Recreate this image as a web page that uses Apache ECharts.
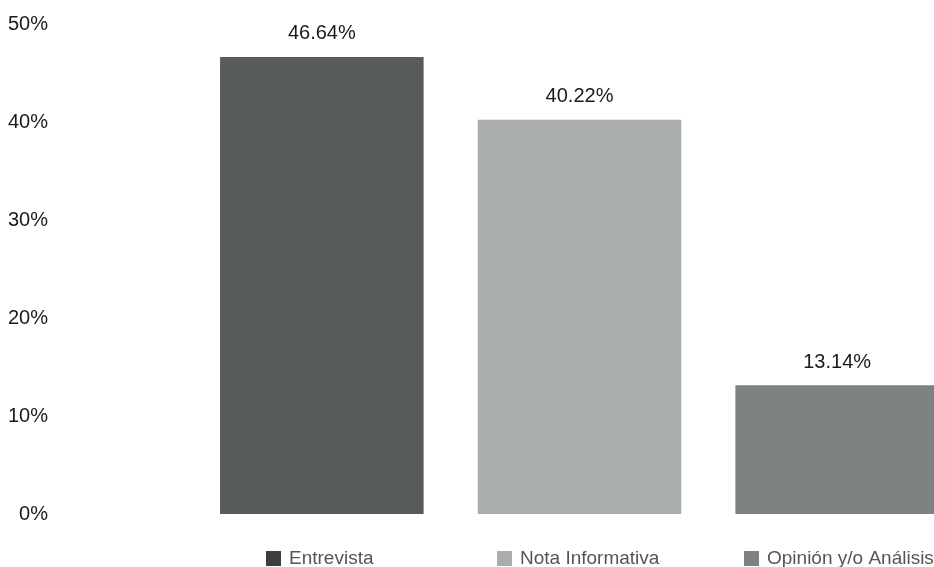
<!DOCTYPE html>
<html>
<head>
<meta charset="utf-8">
<script src="https://cdn.jsdelivr.net/npm/echarts@6/dist/echarts.min.js"></script>
<style>html,body{margin:0;padding:0;background:#fff;}#c{width:934px;height:567px;}</style>
</head>
<body>
<div id="c"></div>
<script>
const categories = ['Entrevista', 'Nota Informativa', 'Opinión y/o Análisis'];
const values = [46.64, 40.22, 13.14];
const barColors = ['#575b5c', '#a9adad', '#7f8282'];
const legendColors = ['#3b3e41', '#a9adad', '#7f8282'];
const yTicks = [0, 10, 20, 30, 40, 50];

const FONT = '"Liberation Sans", Arial, sans-serif';
const chart = echarts.init(document.getElementById('c'), null, {renderer: 'canvas'});

const series = categories.map((name, i) => ({
  name: name,
  type: 'bar',
  stack: 'all',
  barCategoryGap: '21%',
  data: categories.map((c, j) => j === i ? values[i] : '-'),
  itemStyle: {color: barColors[i]},
  label: {
    show: true, position: 'top', distance: 13,
    formatter: p => p.value.toFixed(2) + '%',
    color: '#1a1a1a', fontSize: 20, fontFamily: FONT
  }
}));

const legendLefts = [266, 497, 744];
const legends = categories.map((name, i) => ({
  data: [{name: name, itemStyle: {color: legendColors[i]}}],
  left: legendLefts[i], top: 549,
  icon: 'rect', itemWidth: 15, itemHeight: 15,
  padding: 0, selectedMode: false,
  textStyle: {color: '#555', fontSize: 19, fontFamily: FONT, padding: [0, 0, 0, 3]}
}));

chart.setOption({
  animation: false,
  legend: legends,
  grid: {left: 193, width: 773, top: 24, bottom: 53, outerBoundsMode: 'none', containLabel: false},
  xAxis: {
    type: 'category', data: categories,
    axisLine: {show: false}, axisTick: {show: false}, axisLabel: {show: false}
  },
  yAxis: {
    type: 'value', min: yTicks[0], max: yTicks[yTicks.length - 1], interval: 10,
    splitLine: {show: false}, axisLine: {show: false}, axisTick: {show: false},
    axisLabel: {
      margin: 145, formatter: v => v + '%',
      color: '#1a1a1a', fontSize: 20, fontFamily: FONT
    }
  },
  series: series
});
</script>
</body>
</html>
